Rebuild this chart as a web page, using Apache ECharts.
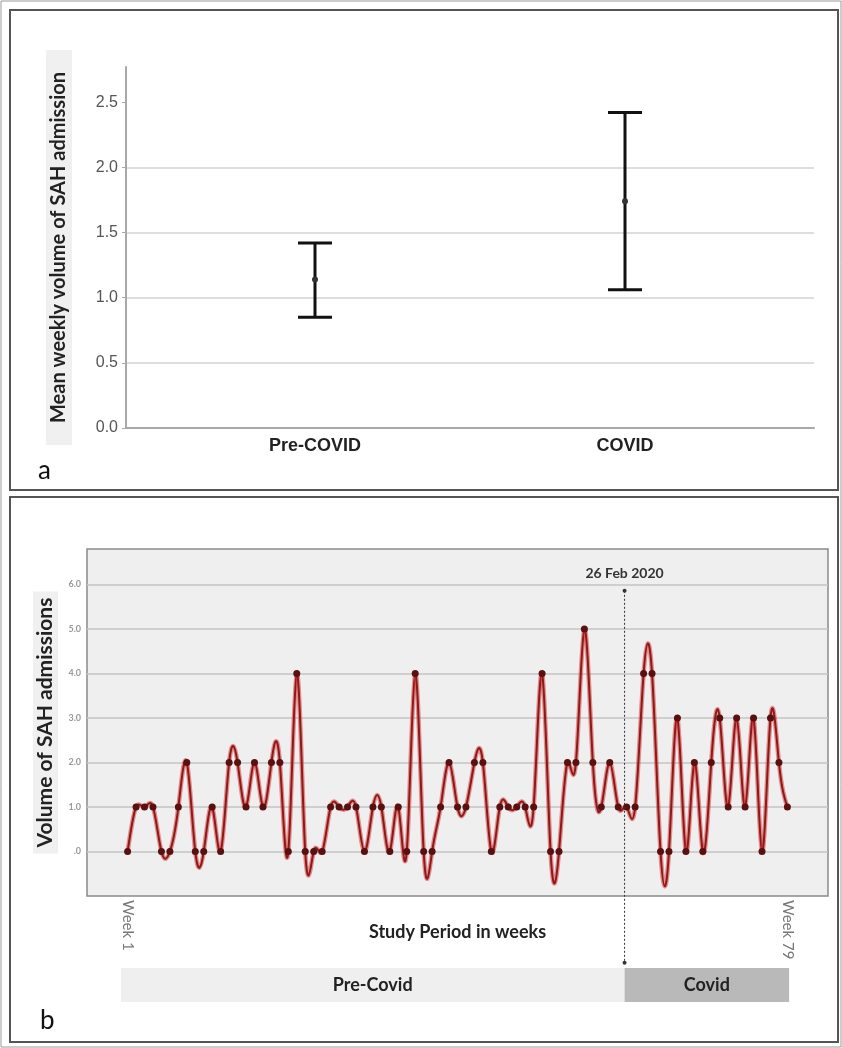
<!DOCTYPE html>
<html>
<head>
<meta charset="utf-8">
<script src="https://cdn.jsdelivr.net/npm/echarts@6/dist/echarts.min.js"></script>
<style>
html, body { margin: 0; padding: 0; background: #fff; }
#main { width: 842px; height: 1048px; }
</style>
</head>
<body>
<div id="main"></div>
<script>
// panel a: mean weekly SAH admissions with error bars
var groups = ['Pre-COVID', 'COVID'];
var groupLow = [0.85, 1.06];
var groupMean = [1.14, 1.74];
var groupHigh = [1.42, 2.42];
var meanTicks = [0, 0.5, 1.0, 1.5, 2.0, 2.5];

// panel b: weekly SAH admissions, week 1 .. week 79
var weeklyCount = [
    0, 1, 1, 1, 0, 0, 1, 2, 0, 0,
    1, 0, 2, 2, 1, 2, 1, 2, 2, 0,
    4, 0, 0, 0, 1, 1, 1, 1, 0, 1,
    1, 0, 1, 0, 4, 0, 0, 1, 2, 1,
    1, 2, 2, 0, 1, 1, 1, 1, 1, 4,
    0, 0, 2, 2, 5, 2, 1, 2, 1, 1,
    1, 4, 4, 0, 0, 3, 0, 2, 0, 2,
    3, 1, 3, 1, 3, 0, 3, 2, 1
];
var countTicks = [0, 1, 2, 3, 4, 5, 6];
var weekLabels = [1, 79];
var covidStart = 59.75;
var covidLabel = '26 Feb 2020';
var periodNames = ['Pre-Covid', 'Covid'];
var periodStart = [0.2, 59.75];
var periodEnd = [59.75, 79.2];
var periodColors = ['#efefef', '#b9b9b9'];

var weeks = weeklyCount.map(function (v, i) { return i + 1; });

// natural cubic spline second derivatives (unit spacing), used to draw the curve
function splineM(ys) {
    var n = ys.length, m = new Array(n).fill(0);
    var r = [];
    for (var i = 1; i < n - 1; i++) r.push(6 * (ys[i + 1] - 2 * ys[i] + ys[i - 1]));
    var k = r.length, cp = [], dp = [];
    cp[0] = 1 / 4; dp[0] = r[0] / 4;
    for (i = 1; i < k; i++) {
        var den = 4 - cp[i - 1];
        cp[i] = 1 / den;
        dp[i] = (r[i] - dp[i - 1]) / den;
    }
    var sol = []; sol[k - 1] = dp[k - 1];
    for (i = k - 2; i >= 0; i--) sol[i] = dp[i] - cp[i] * sol[i + 1];
    for (i = 0; i < k; i++) m[i + 1] = sol[i];
    return m;
}
var M = splineM(weeklyCount);

var chart = echarts.init(document.getElementById('main'));

var option = {
    backgroundColor: '#fff',
    animation: false,
    graphic: [
        { type: 'rect', shape: { x: 1, y: 1, width: 840, height: 1046 }, style: { fill: 'none', stroke: '#9a9a9a', lineWidth: 1 } },
        { type: 'rect', shape: { x: 10, y: 10, width: 828, height: 480 }, style: { fill: 'none', stroke: '#555', lineWidth: 2 } },
        { type: 'rect', shape: { x: 10, y: 497, width: 828, height: 545 }, style: { fill: 'none', stroke: '#555', lineWidth: 2 } },
        { type: 'text', x: 38, y: 458, style: { text: 'a', font: '26px Lato', fill: '#111' } },
        { type: 'text', x: 40, y: 1008, style: { text: 'b', font: '26px Lato', fill: '#111' } }
    ],
    grid: [
        { left: 126, top: 67, width: 688, height: 361 },
        { left: 160, top: 67, width: 620, height: 361 },
        { left: 87, top: 549, width: 741, height: 347, show: true, backgroundColor: '#efefef', borderColor: '#8a8a8a', borderWidth: 1.5 },
        { left: 87, top: 968, width: 741, height: 34 }
    ],
    xAxis: [
        {
            gridIndex: 0, type: 'value', min: 0, max: 1,
            axisLine: { show: true, lineStyle: { color: '#a8a8a8', width: 2 } },
            axisTick: { show: false }, axisLabel: { show: false }, splitLine: { show: false }
        },
        {
            gridIndex: 1, type: 'category', data: groups,
            axisLine: { show: false }, axisTick: { show: false },
            axisLabel: { margin: 9, fontFamily: 'Liberation Sans', fontWeight: 'bold', fontSize: 18, color: '#222' }
        },
        {
            gridIndex: 2, type: 'value', min: -3.8, max: 83.8,
            axisLine: { show: false }, axisTick: { show: false }, splitLine: { show: false },
            axisLabel: {
                customValues: weekLabels, rotate: -90, margin: 4,
                formatter: function (v) { return 'Week ' + v; },
                fontFamily: 'Lato', fontSize: 15, color: '#777'
            },
            name: 'Study Period in weeks', nameLocation: 'middle', nameGap: 27, nameMoveOverlap: false,
            nameTextStyle: { fontFamily: 'Lato', fontWeight: 'bold', fontSize: 18, color: '#222' }
        },
        { gridIndex: 3, type: 'value', min: -3.8, max: 83.8, show: false }
    ],
    yAxis: [
        {
            gridIndex: 0, type: 'value', min: 0, max: 2.77, interval: 0.5,
            axisLine: { show: true, lineStyle: { color: '#a8a8a8', width: 2 } },
            axisTick: { show: true, length: 4, customValues: meanTicks, lineStyle: { color: '#a8a8a8' } },
            axisLabel: {
                customValues: meanTicks, margin: 8,
                formatter: function (v) { return v.toFixed(1); },
                fontFamily: 'Liberation Sans', fontSize: 16, color: '#555'
            },
            splitLine: { lineStyle: { color: '#dedede', width: 2 }, showMaxLine: false },
            name: 'Mean weekly volume of SAH admission', nameLocation: 'middle', nameRotate: 90, nameGap: 54,
            nameMoveOverlap: false,
            nameTextStyle: {
                fontFamily: 'Lato', fontWeight: 'bold', fontSize: 20, color: '#222',
                backgroundColor: '#f0f0f0', padding: [3, 22, 3, 22]
            }
        },
        { gridIndex: 1, type: 'value', min: 0, max: 2.77, show: false },
        {
            gridIndex: 2, type: 'value', min: -1, max: 6.8, interval: 1,
            axisLine: { show: false }, axisTick: { show: false },
            axisLabel: {
                customValues: countTicks, margin: 6,
                formatter: function (v) { return v === 0 ? '.0' : v.toFixed(1); },
                fontFamily: 'Lato', fontWeight: 'bold', fontSize: 9, color: '#999'
            },
            splitLine: { lineStyle: { color: '#c4c4c4', width: 1.5 }, showMinLine: false, showMaxLine: false },
            name: 'Volume of SAH admissions', nameLocation: 'middle', nameRotate: 90, nameGap: 29,
            nameMoveOverlap: false,
            nameTextStyle: {
                fontFamily: 'Lato', fontWeight: 'bold', fontSize: 21, color: '#222',
                backgroundColor: '#f0f0f0', padding: [2, 6, 2, 6]
            }
        },
        { gridIndex: 3, type: 'value', min: 0, max: 1, show: false }
    ],
    series: [
        {
            // error bars
            type: 'custom', xAxisIndex: 1, yAxisIndex: 1,
            data: groups.map(function (g, i) { return [i, groupLow[i], groupMean[i], groupHigh[i]]; }),
            renderItem: function (params, api) {
                var c = api.value(0);
                var lo = api.coord([c, api.value(1)]);
                var mid = api.coord([c, api.value(2)]);
                var hi = api.coord([c, api.value(3)]);
                var hw = 17;
                var st = { stroke: '#111', lineWidth: 3 };
                return {
                    type: 'group', children: [
                        { type: 'line', shape: { x1: lo[0], y1: lo[1], x2: hi[0], y2: hi[1] }, style: st },
                        { type: 'line', shape: { x1: lo[0] - hw, y1: lo[1], x2: lo[0] + hw, y2: lo[1] }, style: st },
                        { type: 'line', shape: { x1: hi[0] - hw, y1: hi[1], x2: hi[0] + hw, y2: hi[1] }, style: st },
                        { type: 'circle', shape: { cx: mid[0], cy: mid[1], r: 3 }, style: { fill: '#333' } }
                    ]
                };
            }
        },
        {
            // smoothed weekly line
            type: 'custom', xAxisIndex: 2, yAxisIndex: 2,
            data: weeks.map(function (w, i) { return [w, weeklyCount[i]]; }),
            renderItem: function (params, api) {
                var i = params.dataIndex;
                if (i >= weeklyCount.length - 1) return;
                var x0 = weeks[i], x1 = weeks[i + 1], y0 = weeklyCount[i], y1 = weeklyCount[i + 1];
                var h = x1 - x0, d = (y1 - y0) / h;
                var s0 = d - h * (2 * M[i] + M[i + 1]) / 6;
                var s1 = d + h * (M[i] + 2 * M[i + 1]) / 6;
                var p0 = api.coord([x0, y0]), p1 = api.coord([x1, y1]);
                var c0 = api.coord([x0 + h / 3, y0 + s0 * h / 3]);
                var c1 = api.coord([x1 - h / 3, y1 - s1 * h / 3]);
                var shape = { x1: p0[0], y1: p0[1], x2: p1[0], y2: p1[1], cpx1: c0[0], cpy1: c0[1], cpx2: c1[0], cpy2: c1[1] };
                return {
                    type: 'group', children: [
                        { type: 'bezierCurve', shape: shape, style: { fill: null, stroke: 'rgba(220,60,60,0.55)', lineWidth: 4.5 } },
                        { type: 'bezierCurve', shape: shape, style: { fill: null, stroke: '#8b1a1a', lineWidth: 2 } }
                    ]
                };
            }
        },
        {
            type: 'scatter', xAxisIndex: 2, yAxisIndex: 2, z: 5,
            data: weeks.map(function (w, i) { return [w, weeklyCount[i]]; }),
            symbolSize: 7,
            itemStyle: { color: '#5a1010', opacity: 1 }
        },
        {
            // 26 Feb 2020 marker
            type: 'custom', xAxisIndex: 2, yAxisIndex: 2, z: 6,
            data: [[covidStart, 5.86, -2.5]],
            renderItem: function (params, api) {
                var top = api.coord([api.value(0), api.value(1)]);
                var bot = api.coord([api.value(0), api.value(2)]);
                return {
                    type: 'group', children: [
                        { type: 'line', shape: { x1: top[0], y1: top[1], x2: bot[0], y2: bot[1] }, style: { stroke: '#333', lineWidth: 1, lineDash: [2, 2] } },
                        { type: 'circle', shape: { cx: top[0], cy: top[1], r: 2 }, style: { fill: '#333' } },
                        { type: 'circle', shape: { cx: bot[0], cy: bot[1], r: 2 }, style: { fill: '#333' } },
                        { type: 'text', x: top[0], y: top[1] - 10, style: { text: covidLabel, align: 'center', verticalAlign: 'bottom', font: 'bold 14px Lato', fill: '#333' } }
                    ]
                };
            }
        },
        {
            // study periods band
            type: 'custom', xAxisIndex: 3, yAxisIndex: 3,
            data: periodNames.map(function (n, i) { return [periodStart[i], periodEnd[i]]; }),
            renderItem: function (params, api) {
                var i = params.dataIndex;
                var a = api.coord([api.value(0), 1]);
                var b = api.coord([api.value(1), 0]);
                return {
                    type: 'rect',
                    shape: { x: a[0], y: a[1], width: b[0] - a[0], height: b[1] - a[1] },
                    style: { fill: periodColors[i] },
                    textContent: { style: { text: periodNames[i], font: 'bold 18px Lato', fill: '#222' } },
                    textConfig: { position: 'inside' }
                };
            }
        }
    ]
};

chart.setOption(option);
</script>
</body>
</html>
